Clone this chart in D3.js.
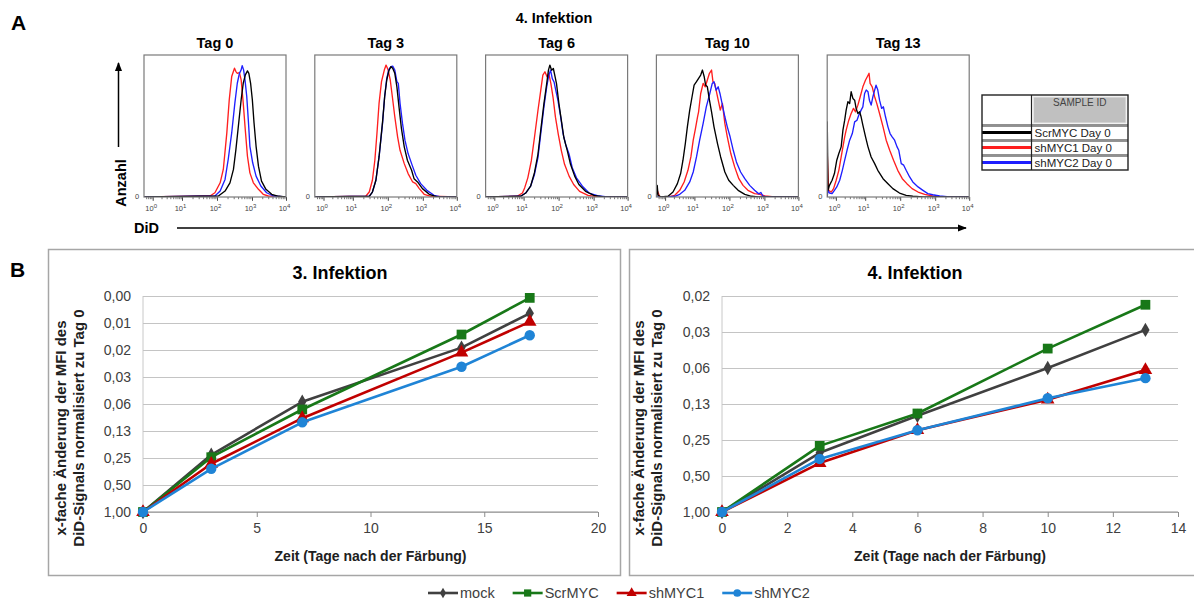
<!DOCTYPE html>
<html>
<head>
<meta charset="utf-8">
<script src="https://cdn.jsdelivr.net/npm/d3@7"></script>
<style>
  html, body { margin: 0; padding: 0; background: #fff; }
  svg { display: block; font-family: "Liberation Sans", Arial, sans-serif; }
</style>
</head>
<body>
<svg id="fig" width="1194" height="601"></svg>
<script>
// ---------- Panel A: DiD histograms, 4. Infektion ----------
// each point: [log10 DiD intensity, event count in % of the panel height]
const histDays = ["Tag 0", "Tag 3", "Tag 6", "Tag 10", "Tag 13"];
const histSamples = ["ScrMYC Day 0", "shMYC1 Day 0", "shMYC2 Day 0"];
const histColors = ["#000000", "#ff1f1f", "#1f1fff"];
const decadeTicks = [0, 1, 2, 3, 4];

const tag0Scr = [[2.04,0.7],[2.23,4.2],[2.37,10],[2.47,19.4],[2.54,33.4],[2.62,52.1],[2.69,68.5],[2.75,80.1],[2.81,86],[2.87,88.8],[2.91,87.1],[2.96,80.1],[3.01,68.5],[3.06,52.1],[3.12,35.7],[3.19,21.7],[3.28,11.2],[3.41,5.4],[3.58,1.9],[3.78,0.5]];
const tag0Sh1 = [[1.80,0.7],[1.94,3],[2.09,10],[2.18,19.4],[2.28,45],[2.35,68.5],[2.42,84.8],[2.50,90.7],[2.54,88.3],[2.58,87.1],[2.64,87.6],[2.69,82.5],[2.75,66],[2.80,49.8],[2.87,28.7],[2.94,17],[3.04,10],[3.19,5.4],[3.33,1.9],[3.48,0.7]];
const tag0Sh2 = [[1.94,0.7],[2.09,4.2],[2.23,12.4],[2.32,26.4],[2.42,45.1],[2.51,66.1],[2.58,80.1],[2.64,87.1],[2.69,89.5],[2.72,92.5],[2.76,89.5],[2.80,82.5],[2.85,70.8],[2.90,52.1],[2.94,35.7],[3.02,24.1],[3.12,14.7],[3.26,7.7],[3.43,3],[3.63,0.7]];

const tag3Scr = [[1.47,0.5],[1.56,3.5],[1.66,11.8],[1.75,28.2],[1.85,52.9],[1.91,70.6],[1.97,82.4],[2.03,88.9],[2.09,91.8],[2.14,90.6],[2.20,87.1],[2.26,77.6],[2.32,63.5],[2.39,48.2],[2.47,35.3],[2.56,25.9],[2.68,18.8],[2.75,12.9],[2.85,10.6],[2.99,5.9],[3.19,1.9],[3.43,0]];
const tag3Sh1 = [[1.37,0.5],[1.47,3.5],[1.56,11.8],[1.63,25.9],[1.69,44.7],[1.75,65.9],[1.82,81.2],[1.90,89.4],[1.95,92.9],[2.01,89.4],[2.07,82.4],[2.13,70.6],[2.20,56.5],[2.28,42.4],[2.35,32.9],[2.47,23.5],[2.58,16.5],[2.71,10.6],[2.80,9.4],[2.90,5.9],[3.04,1.9],[3.24,0.5]];
const tag3Sh2 = [[1.47,0.5],[1.56,3.5],[1.66,11.8],[1.75,28.2],[1.85,51.8],[1.91,70.6],[1.97,83.5],[2.03,89.9],[2.09,91.8],[2.14,92.2],[2.20,89.4],[2.26,81.2],[2.30,80],[2.35,65.9],[2.42,51.8],[2.49,40],[2.58,30.6],[2.68,23.5],[2.80,15.3],[2.94,9.4],[3.12,4.7],[3.33,1.2],[3.53,0]];

const tag6Scr = [[0.90,0.5],[1.06,2.8],[1.20,7.6],[1.31,17.1],[1.41,30.1],[1.50,49.1],[1.58,65.6],[1.66,79.9],[1.71,89.3],[1.75,92.9],[1.80,89.3],[1.85,90.5],[1.90,84.6],[1.94,79.9],[2.01,65.6],[2.08,53.8],[2.15,41.9],[2.25,32.5],[2.34,23],[2.46,14.7],[2.58,8.8],[2.77,4],[3.01,1.2],[3.30,0]];
const tag6Sh1 = [[0.78,0.5],[0.96,2.8],[1.03,6.4],[1.12,13.5],[1.22,25.4],[1.31,41.9],[1.41,60.9],[1.49,75.1],[1.55,85.8],[1.61,88.2],[1.67,84.6],[1.72,87],[1.78,79.9],[1.84,70.4],[1.91,56.2],[1.99,44.3],[2.08,32.5],[2.17,23],[2.30,14.7],[2.43,8.8],[2.60,4],[2.84,1.2],[3.11,0.2]];
const tag6Sh2 = [[0.90,0.5],[1.06,2.8],[1.20,7.6],[1.31,15.9],[1.41,27.7],[1.50,46.7],[1.58,63.3],[1.66,77.5],[1.72,85.8],[1.77,89.3],[1.82,83.4],[1.87,81],[1.92,75.1],[1.98,68.2],[2.06,56.2],[2.13,44.3],[2.20,37.2],[2.30,30.1],[2.39,20.6],[2.51,13.5],[2.68,7.6],[2.87,2.8],[3.11,0.9],[3.40,0]];

const tag10Scr = [[-0.27,8.2],[-0.24,1.2],[-0.13,0],[0.10,0.5],[0.27,3.5],[0.42,9.4],[0.53,16.5],[0.61,25.9],[0.69,37.6],[0.76,49.4],[0.84,61.2],[0.92,70.6],[0.99,78.8],[1.06,81.2],[1.12,83.5],[1.18,85.9],[1.23,89.4],[1.28,84.7],[1.32,78.8],[1.37,77.6],[1.43,68.2],[1.49,60],[1.56,49.4],[1.66,37.6],[1.75,28.2],[1.87,17.6],[1.98,11.8],[2.11,8.2],[2.25,4.7],[2.44,1.9],[2.63,0.5],[2.82,0]];
const tag10Sh1 = [[-0.27,4.7],[-0.18,0],[0.10,0],[0.33,1.2],[0.50,4.7],[0.65,10.6],[0.78,18.8],[0.88,28.2],[0.96,40],[1.03,48.2],[1.09,56.5],[1.12,60],[1.18,72.9],[1.25,80],[1.31,77.6],[1.37,82.4],[1.43,87.1],[1.49,89.4],[1.53,81.2],[1.58,80],[1.64,72.9],[1.70,65.9],[1.74,61.2],[1.80,65.9],[1.87,51.8],[1.94,42.4],[2.04,30.6],[2.15,21.2],[2.27,12.9],[2.39,8.2],[2.53,4.7],[2.72,2.4],[2.87,1.9],[3.01,0.7],[3.30,0]];
const tag10Sh2 = [[0.10,0],[0.33,0.5],[0.50,1.9],[0.67,4.7],[0.84,10.6],[0.96,17.6],[1.06,28.2],[1.15,40],[1.25,51.8],[1.34,63.5],[1.44,72.9],[1.51,80],[1.56,81.2],[1.62,75.3],[1.68,77.6],[1.73,72.9],[1.79,65.9],[1.87,56.5],[1.94,49.4],[2.02,42.4],[2.11,32.9],[2.20,24.7],[2.32,17.6],[2.44,12.9],[2.58,8.2],[2.72,4.7],[2.84,2.2],[2.90,3.2],[2.96,0.5],[3.11,0]];

const tag13Scr = [[-0.295,52.9],[-0.27,4.7],[-0.22,8.2],[-0.13,11.8],[-0.05,16.5],[0.03,25.9],[0.10,30.6],[0.18,35.3],[0.24,47.1],[0.30,54.1],[0.35,61.2],[0.41,67.1],[0.47,65.9],[0.52,74.1],[0.58,69.4],[0.64,68.2],[0.69,62.4],[0.75,58.8],[0.81,60],[0.86,56.5],[0.92,50.6],[1.01,42.4],[1.08,35.3],[1.17,28.2],[1.27,23.5],[1.36,18.8],[1.51,12.9],[1.65,9.4],[1.79,5.9],[1.98,2.8],[2.17,1.2],[2.36,0.5],[2.65,0]];
const tag13Sh1 = [[-0.295,30.6],[-0.25,4.7],[-0.16,3.5],[-0.08,5.9],[0.01,11.8],[0.10,18.8],[0.18,28.2],[0.24,35.3],[0.30,42.4],[0.35,47.1],[0.44,54.1],[0.52,58.8],[0.60,62.4],[0.67,60],[0.75,64.7],[0.83,70.6],[0.92,77.6],[1.01,82.4],[1.06,84.7],[1.11,87.1],[1.14,80],[1.20,77.6],[1.27,70.6],[1.33,65.9],[1.41,58.8],[1.51,49.4],[1.60,40],[1.70,32.9],[1.81,25.9],[1.93,18.8],[2.06,12.9],[2.19,9.4],[2.34,5.9],[2.51,3.5],[2.70,1.9],[2.93,0.7],[3.23,0]];
const tag13Sh2 = [[-0.27,4.7],[-0.22,2.8],[-0.13,2.4],[-0.05,4.7],[0.03,7.1],[0.13,11.8],[0.22,18.8],[0.30,25.9],[0.38,32.9],[0.47,40],[0.56,44.7],[0.64,52.9],[0.72,54.1],[0.78,57.6],[0.86,61.2],[0.92,63.5],[0.98,72.9],[1.03,75.3],[1.08,74.1],[1.12,68.2],[1.17,64.7],[1.22,70.6],[1.27,75.3],[1.31,78.8],[1.36,75.3],[1.41,68.2],[1.47,62.4],[1.52,63.5],[1.58,56.5],[1.65,49.4],[1.71,44.7],[1.77,42.4],[1.84,40],[1.91,35.3],[1.96,32.9],[2.03,23.5],[2.10,22.4],[2.17,18.8],[2.27,14.1],[2.36,10.6],[2.51,7.1],[2.65,4.7],[2.79,2.4],[2.93,1.6],[3.13,0.7],[3.42,0]];

// ---------- Panel B: MFI fold change relative to Tag 0 ----------
const seriesNames = ["mock", "ScrMYC", "shMYC1", "shMYC2"];
const seriesColors = ["#404040", "#187818", "#c00000", "#1f84d6"];

const days3 = [0, 3, 7, 14, 17];
const mock3 = [1, 0.23, 0.059, 0.0147, 0.0061];
const scr3 = [1, 0.245, 0.072, 0.0105, 0.0041];
const shMYC1_3 = [1, 0.29, 0.090, 0.0167, 0.0076];
const shMYC2_3 = [1, 0.33, 0.10, 0.024, 0.0107];
const xTicks3 = [0, 5, 10, 15, 20];
const yTicks3 = [1, 0.5, 0.25, 0.125, 0.0625, 0.03125, 0.015625, 0.0078125, 0.00390625];

const days4 = [0, 3, 6, 10, 13];
const mock4 = [1, 0.32, 0.157, 0.0625, 0.030];
const scr4 = [1, 0.28, 0.15, 0.043, 0.0185];
const shMYC1_4 = [1, 0.39, 0.207, 0.115, 0.065];
const shMYC2_4 = [1, 0.36, 0.207, 0.112, 0.076];
const xTicks4 = [0, 2, 4, 6, 8, 10, 12, 14];
const yTicks4 = [1, 0.5, 0.25, 0.125, 0.0625, 0.03125, 0.015625];

// ================= drawing =================
const svg = d3.select("#fig");
svg.append("rect").attr("width", 1194).attr("height", 601).attr("fill", "#fff");
const defs = svg.append("defs");

function arrowHead(id) {
  defs.append("marker").attr("id", id)
    .attr("viewBox", "0 0 10 10").attr("refX", 9).attr("refY", 5)
    .attr("markerWidth", 9).attr("markerHeight", 9).attr("markerUnits", "userSpaceOnUse")
    .attr("orient", "auto")
    .append("path").attr("d", "M0,1 L10,5 L0,9 Z").attr("fill", "#000");
}
arrowHead("arr");

// panel letters
svg.append("text").attr("x", 11).attr("y", 30).attr("font-size", 21).attr("font-weight", "bold").text("A");
svg.append("text").attr("x", 10).attr("y", 277).attr("font-size", 21).attr("font-weight", "bold").text("B");

// ---- histograms ----
const HIST_X0 = 144, HIST_STEP = 170.8, HIST_TOP = 55, HIST_W = 142, HIST_H = 142;
const hx = d3.scaleLinear().domain(decadeTicks).range([8.7, 38, 73, 108, 142]);
const hy = d3.scaleLinear().domain([0, 100]).range([HIST_H, 0]);
const hDomainLeft = -0.3;
const minorTicks = [];
for (let d = -1; d < 4; d++) {
  for (let k = 2; k <= 9; k++) {
    const v = d + Math.log10(k);
    if (v > hDomainLeft) minorTicks.push(v);
  }
}
const histLine = d3.line().x(p => hx(p[0])).y(p => hy(p[1]));
const histData = [
  [tag0Scr, tag0Sh1, tag0Sh2],
  [tag3Scr, tag3Sh1, tag3Sh2],
  [tag6Scr, tag6Sh1, tag6Sh2],
  [tag10Scr, tag10Sh1, tag10Sh2],
  [tag13Scr, tag13Sh1, tag13Sh2]
];

svg.append("text").attr("x", 554).attr("y", 23).attr("text-anchor", "middle")
  .attr("font-size", 14.5).attr("font-weight", "bold").text("4. Infektion");

histData.forEach((curves, i) => {
  const g = svg.append("g").attr("transform", `translate(${HIST_X0 + i * HIST_STEP},${HIST_TOP})`);
  const clipId = "hclip" + i;
  g.append("clipPath").attr("id", clipId).append("rect")
    .attr("x", 0).attr("y", -2).attr("width", HIST_W).attr("height", HIST_H + 2);

  g.append("text").attr("x", HIST_W / 2).attr("y", -7).attr("text-anchor", "middle")
    .attr("font-size", 14.5).attr("font-weight", "bold").text(histDays[i]);

  // minor / major ticks along the intensity axis
  const minorAxis = d3.axisBottom(hx).tickValues(minorTicks).tickSize(2.2).tickFormat("");
  const ma = g.append("g").attr("transform", `translate(0,${HIST_H})`).call(minorAxis);
  ma.select(".domain").remove();
  ma.selectAll("line").attr("stroke", "#666").attr("stroke-width", 0.9);
  const majorAxis = d3.axisBottom(hx).tickValues(decadeTicks).tickSize(3.8).tickFormat("");
  const mj = g.append("g").attr("transform", `translate(0,${HIST_H})`).call(majorAxis);
  mj.select(".domain").remove();
  mj.selectAll("line").attr("stroke", "#444").attr("stroke-width", 1);

  decadeTicks.forEach(d => {
    const t = g.append("text").attr("x", hx(d) - 1.5).attr("y", HIST_H + 14)
      .attr("text-anchor", "middle").attr("font-size", 7.5).attr("fill", "#444");
    t.append("tspan").text("10");
    t.append("tspan").attr("font-size", 6).attr("dy", -3.5).text(d);
  });
  g.append("text").attr("x", -9).attr("y", HIST_H + 2).attr("font-size", 7.5).attr("fill", "#444").text("0");

  [1, 2, 0].forEach(k => {
    g.append("path")
      .datum([[hDomainLeft, 0], ...curves[k], [4, 0]])
      .attr("clip-path", `url(#${clipId})`)
      .attr("d", histLine)
      .attr("fill", "none")
      .attr("stroke", histColors[k])
      .attr("stroke-width", 1.35)
      .attr("stroke-linejoin", "round");
  });

  g.append("rect").attr("width", HIST_W).attr("height", HIST_H)
    .attr("fill", "none").attr("stroke", "#7a7a7a").attr("stroke-width", 1.2);
});

// count axis arrow
svg.append("line").attr("x1", 118.5).attr("y1", 147).attr("x2", 118.5).attr("y2", 63)
  .attr("stroke", "#000").attr("stroke-width", 1.5).attr("marker-end", "url(#arr)");
svg.append("text").attr("transform", "translate(126,183) rotate(-90)").attr("text-anchor", "middle")
  .attr("font-size", 14.5).attr("font-weight", "bold").text("Anzahl");
// intensity axis arrow
svg.append("text").attr("x", 134).attr("y", 233).attr("font-size", 14.5).attr("font-weight", "bold").text("DiD");
svg.append("line").attr("x1", 177).attr("y1", 228).attr("x2", 966).attr("y2", 228)
  .attr("stroke", "#000").attr("stroke-width", 1.5).attr("marker-end", "url(#arr)");

// sample legend table
(function () {
  const g = svg.append("g");
  const x0 = 982, x1 = 1128, xm = 1031.5, y0 = 95, yh = 125, rowH = 15;
  g.append("rect").attr("x", xm + 2).attr("y", y0 + 2).attr("width", x1 - xm - 4).attr("height", yh - y0 - 4)
    .attr("fill", "#c0c0c0").attr("stroke", "#e6e6e6").attr("stroke-width", 1);
  g.append("text").attr("x", (xm + x1) / 2).attr("y", y0 + 11).attr("text-anchor", "middle")
    .attr("font-size", 10).attr("fill", "#444").text("SAMPLE ID");
  histSamples.forEach((s, k) => {
    const yc = yh + rowH * k + rowH / 2;
    g.append("line").attr("x1", x0).attr("x2", xm).attr("y1", yc).attr("y2", yc)
      .attr("stroke", histColors[k]).attr("stroke-width", 3.2);
    g.append("line").attr("x1", x0).attr("x2", x1).attr("y1", yh + rowH * k + 1.5).attr("y2", yh + rowH * k + 1.5)
      .attr("stroke", "#777").attr("stroke-width", 0.8);
    g.append("text").attr("x", xm + 3).attr("y", yc + 4.5).attr("font-size", 11.5).attr("fill", "#222").text(s);
  });
  [yh, yh + rowH, yh + 2 * rowH].forEach(y => g.append("line").attr("x1", x0).attr("x2", x1)
    .attr("y1", y).attr("y2", y).attr("stroke", "#222").attr("stroke-width", 1.2));
  g.append("line").attr("x1", xm).attr("x2", xm).attr("y1", y0).attr("y2", y0 + 75)
    .attr("stroke", "#222").attr("stroke-width", 1.2);
  g.append("rect").attr("x", x0).attr("y", y0).attr("width", x1 - x0).attr("height", 75)
    .attr("fill", "none").attr("stroke", "#222").attr("stroke-width", 1.4);
})();

// ---- line charts ----
svg.append("rect").attr("x", 48.5).attr("y", 249.5).attr("width", 572).attr("height", 326)
  .attr("fill", "none").attr("stroke", "#a6a6a6").attr("stroke-width", 1.5);
svg.append("rect").attr("x", 629.5).attr("y", 249.5).attr("width", 600).attr("height", 326)
  .attr("fill", "none").attr("stroke", "#a6a6a6").attr("stroke-width", 1.5);

const symbols = [d3.symbolDiamond, d3.symbolSquare, d3.symbolTriangle, d3.symbolCircle];
const symbolSizes = [60, 95, 80, 85];
const fmtY = v => v.toFixed(2).replace(".", ",");

function drawChart(opt) {
  const g = svg.append("g");
  const x = d3.scaleLinear().domain(d3.extent(opt.xTicks)).range([opt.left, opt.right]);
  const y = d3.scaleLog().base(2).domain([opt.yTicks[0], opt.yTicks[opt.yTicks.length - 1]])
    .range([opt.bottom, opt.top]);

  // gridlines
  const grid = d3.axisLeft(y).tickValues(opt.yTicks).tickSize(-(opt.right - opt.left)).tickFormat("");
  const gg = g.append("g").attr("transform", `translate(${opt.left},0)`).call(grid);
  gg.select(".domain").attr("stroke", "#c8c8c8").attr("d", `M0,${opt.top}V${opt.bottom}`);
  gg.selectAll(".tick line").attr("stroke", "#c4c4c4").attr("stroke-width", 1);

  // y tick labels
  const ya = d3.axisLeft(y).tickValues(opt.yTicks).tickSize(0).tickPadding(12).tickFormat(fmtY);
  const yg = g.append("g").attr("transform", `translate(${opt.left},0)`).call(ya);
  yg.select(".domain").remove();
  yg.selectAll("text").attr("font-size", 14).attr("fill", "#404040")
    .attr("font-family", "'Liberation Sans', Arial, sans-serif");

  // x axis
  const xa = d3.axisBottom(x).tickValues(opt.xTicks).tickSize(5).tickPadding(6);
  const xg = g.append("g").attr("transform", `translate(0,${opt.bottom})`).call(xa);
  xg.select(".domain").attr("stroke", "#8c8c8c").attr("d", `M${opt.left},0H${opt.right}`);
  xg.selectAll("line").attr("stroke", "#8c8c8c");
  xg.selectAll("text").attr("font-size", 14).attr("fill", "#404040")
    .attr("font-family", "'Liberation Sans', Arial, sans-serif");

  // titles
  g.append("text").attr("x", opt.titleX).attr("y", 279).attr("text-anchor", "middle")
    .attr("font-size", 18).attr("font-weight", "bold").attr("fill", "#000").text(opt.title);
  g.append("text").attr("x", (opt.left + opt.right) / 2).attr("y", 561).attr("text-anchor", "middle")
    .attr("font-size", 14).attr("font-weight", "bold").attr("fill", "#202020").text("Zeit (Tage nach der Färbung)");
  const yc = 428;
  g.append("text").attr("transform", `translate(${opt.ytX},${yc}) rotate(-90)`).attr("text-anchor", "middle")
    .attr("font-size", 15).attr("font-weight", "bold").attr("fill", "#202020").text("x-fache Änderung der MFI des");
  g.append("text").attr("transform", `translate(${opt.ytX + 18},${yc}) rotate(-90)`).attr("text-anchor", "middle")
    .attr("font-size", 15).attr("font-weight", "bold").attr("fill", "#202020").text("DiD-Signals normalisiert zu Tag 0");

  // series
  const line = d3.line().x(d => x(d[0])).y(d => y(d[1]));
  opt.series.forEach((vals, k) => {
    const pts = opt.days.map((d, j) => [d, vals[j]]);
    g.append("path").datum(pts).attr("d", line).attr("fill", "none")
      .attr("stroke", seriesColors[k]).attr("stroke-width", 2.6).attr("stroke-linejoin", "round");
    g.selectAll(null).data(pts).enter().append("path")
      .attr("transform", d => `translate(${x(d[0])},${y(d[1])})`)
      .attr("d", d3.symbol().type(symbols[k]).size(symbolSizes[k]))
      .attr("fill", seriesColors[k]);
  });
}

drawChart({
  title: "3. Infektion", titleX: 340, ytX: 66,
  left: 143, right: 598, top: 296, bottom: 512,
  xTicks: xTicks3, yTicks: yTicks3, days: days3,
  series: [mock3, scr3, shMYC1_3, shMYC2_3]
});
drawChart({
  title: "4. Infektion", titleX: 915, ytX: 644,
  left: 722, right: 1178, top: 296, bottom: 512,
  xTicks: xTicks4, yTicks: yTicks4, days: days4,
  series: [mock4, scr4, shMYC1_4, shMYC2_4]
});

// bottom legend
(function () {
  const g = svg.append("g");
  let cx = 428;
  const cy = 593;
  seriesNames.forEach((name, k) => {
    g.append("line").attr("x1", cx).attr("x2", cx + 30).attr("y1", cy).attr("y2", cy)
      .attr("stroke", seriesColors[k]).attr("stroke-width", 2.6);
    g.append("path").attr("transform", `translate(${cx + 15},${cy})`)
      .attr("d", d3.symbol().type(symbols[k]).size(symbolSizes[k] * 0.55)).attr("fill", seriesColors[k]);
    const t = g.append("text").attr("x", cx + 32).attr("y", cy + 5).attr("font-size", 14.5)
      .attr("fill", "#404040").text(name);
    cx += 32 + t.node().getComputedTextLength() + 18;
  });
})();
</script>
</body>
</html>
